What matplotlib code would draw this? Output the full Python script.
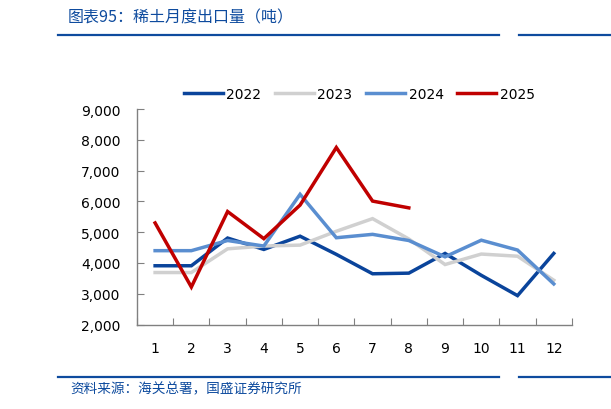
import numpy as np
import matplotlib.pyplot as plt
from matplotlib.lines import Line2D
from matplotlib.ticker import FuncFormatter

plt.rcParams['font.family'] = ['DejaVu Sans']

# Monthly rare-earth export volume (tonnes)
months = list(range(1, 13))
y2022 = [3910, 3910, 4810, 4440, 4870, 4280, 3650, 3670, 4310, 3600, 2940, 4310]
y2023 = [3690, 3690, 4460, 4550, 4580, 5030, 5440, 4780, 3950, 4290, 4220, 3440]
y2024 = [4400, 4400, 4730, 4550, 6230, 4820, 4930, 4730, 4200, 4740, 4420, 3320]
y2025 = [5300, 3220, 5670, 4790, 5880, 7750, 6010, 5790]

series = [('2022', y2022, '#0A449B'),
          ('2023', y2023, '#D0D0D0'),
          ('2024', y2024, '#5A8ED0'),
          ('2025', y2025, '#C00000')]

fig = plt.figure(figsize=(6.11, 4.10), dpi=100)
ax = fig.add_axes([0.2242, 0.2059, 0.7118, 0.5258])

handles = []
for name, vals, col in series:
    x = np.arange(len(vals))
    ln, = ax.plot(x, vals, color=col, lw=2.5, solid_joinstyle='miter', label=name)
    handles.append(ln)

ax.set_xlim(-0.5, 11.5)
ax.set_ylim(2000, 9000)
ax.set_yticks(range(2000, 9001, 1000))
ax.yaxis.set_major_formatter(FuncFormatter(lambda v, p: f"{v:,.0f}"))

# category axis: ticks on the boundaries, labels centred
ax.set_xticks(np.arange(-0.5, 12, 1))
ax.set_xticklabels([])
ax.set_xticks(np.arange(12), minor=True)
ax.set_xticklabels([str(m) for m in months], minor=True)
ax.tick_params(axis='x', which='minor', length=0, pad=12, labelsize=10)
ax.tick_params(axis='x', which='major', direction='in', length=5, color='#808080')
ax.tick_params(axis='y', direction='in', length=5, color='#808080', labelsize=10, pad=12)

for s in ['top', 'right']:
    ax.spines[s].set_visible(False)
for s in ['left', 'bottom']:
    ax.spines[s].set_color('#808080')
    ax.spines[s].set_linewidth(1.0)

fig.legend(handles=handles, loc='center', bbox_to_anchor=(0.588, 0.768),
           ncol=4, frameon=False, fontsize=10, handlelength=2.8,
           handletextpad=0.25, columnspacing=1.0)

# header / footer
blue = '#0E4B9E'
cjk = ['Noto Sans CJK SC', 'DejaVu Sans']
fig.text(68 / 611, 1 - 18 / 410, '图表95：稀土月度出口量（吨）', family=cjk,
         fontsize=11.5, color=blue, va='center', ha='left', style='italic')
fig.text(70 / 611, 1 - 389 / 410, '资料来源：海关总署，国盛证券研究所', family=cjk,
         fontsize=9.8, color=blue, va='center', ha='left', style='italic')
for yy in [35.5, 377.7]:
    fig.add_artist(Line2D([58 / 611, 499 / 611], [1 - yy / 410] * 2, color=blue, lw=1.6))
    fig.add_artist(Line2D([519 / 611, 1.0], [1 - yy / 410] * 2, color=blue, lw=1.6))

fig.savefig('out.png', dpi=100)
